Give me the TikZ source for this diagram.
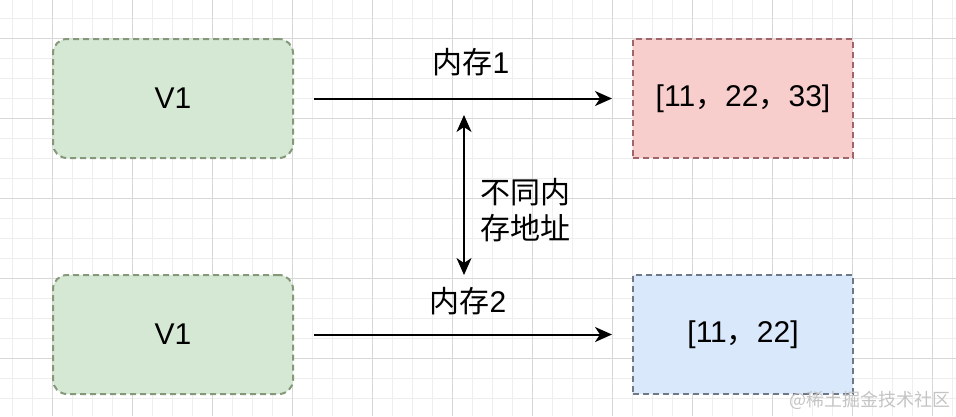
\documentclass[tikz,border=0pt]{standalone}
\usepackage{fontspec}
\setmainfont{Liberation Sans}
\newfontfamily\cjk{Noto Sans CJK SC}
\usetikzlibrary{arrows.meta}
\definecolor{gfill}{HTML}{D5E8D4}
\definecolor{gline}{HTML}{85997A}
\definecolor{rfill}{HTML}{F8CECC}
\definecolor{rline}{HTML}{A0666C}
\definecolor{bfill}{HTML}{DAE8FC}
\definecolor{bline}{HTML}{6E7889}
\definecolor{gridminor}{HTML}{EEEEEE}
\definecolor{gridmajor}{HTML}{D8D8D8}
\definecolor{wm}{HTML}{C4C4C4}
\begin{document}
\begin{tikzpicture}[x=1pt,y=-1pt,
  box/.style={draw, line width=2pt, dash pattern=on 6pt off 4pt, minimum width=240pt, minimum height=119pt, inner sep=0pt},
  valbox/.style={draw, line width=2pt, dash pattern=on 6pt off 4pt, minimum width=220pt, minimum height=119pt, inner sep=0pt},
  big/.style={font=\fontsize{30}{36}\selectfont},
  arr/.style={line width=2pt, -{Stealth[length=17pt,width=15pt,inset=5pt]}},
  darr/.style={line width=2pt, {Stealth[length=17pt,width=15pt,inset=5pt]}-{Stealth[length=17pt,width=15pt,inset=5pt]}},
  minorl/.style={draw=gridminor, line width=1pt},
  majorl/.style={draw=gridmajor, line width=1pt}]
\useasboundingbox (0,0) rectangle (956,416);
\fill[white] (0,0) rectangle (956,416);
\foreach \k in {0,...,47} {\draw[minorl] ({12.3+20*\k},0) -- ({12.3+20*\k},416);}
\foreach \k in {0,...,20} {\draw[minorl] (0,{18.3+20*\k}) -- (956,{18.3+20*\k});}
\foreach \k in {0,...,11} {\draw[majorl] ({52.3+80*\k},0) -- ({52.3+80*\k},416);}
\foreach \k in {0,...,4} {\draw[majorl] (0,{38.3+80*\k}) -- (956,{38.3+80*\k});}

\node[box, rounded corners=14pt, fill=gfill, draw=gline, big] (v1a) at (173,98.5) {V1};
\node[box, rounded corners=14pt, fill=gfill, draw=gline, big] (v1b) at (173,334.5) {V1};
\node[valbox, fill=rfill, draw=rline, big] (ra) at (743,98.5) {[11{\cjk ，}22{\cjk ，}33]};
\node[valbox, fill=bfill, draw=bline, big] (rb) at (743,334.5) {[11{\cjk ，}22]};

\draw[arr, shorten <=20pt, shorten >=20pt] (v1a) -- (ra);
\draw[arr, shorten <=20pt, shorten >=20pt] (v1b) -- (rb);

\node[big] (l1) at (471,62) {{\cjk 内存}1};
\node[big] (l2) at (468,301) {{\cjk 内存}2};

\coordinate (vt) at (464,115);
\coordinate (vb) at (464,275);
\draw[darr] (vt) -- (vb);
\node[big, anchor=west, align=left, inner sep=0pt] (l3) at (480,210) {\cjk 不同内\\\cjk 存地址};

\node[font=\cjk\fontsize{18}{20}\selectfont, text=wm, anchor=east, inner sep=0pt] (wmk) at (951,400) {@稀土掘金技术社区};
\end{tikzpicture}
\end{document}
